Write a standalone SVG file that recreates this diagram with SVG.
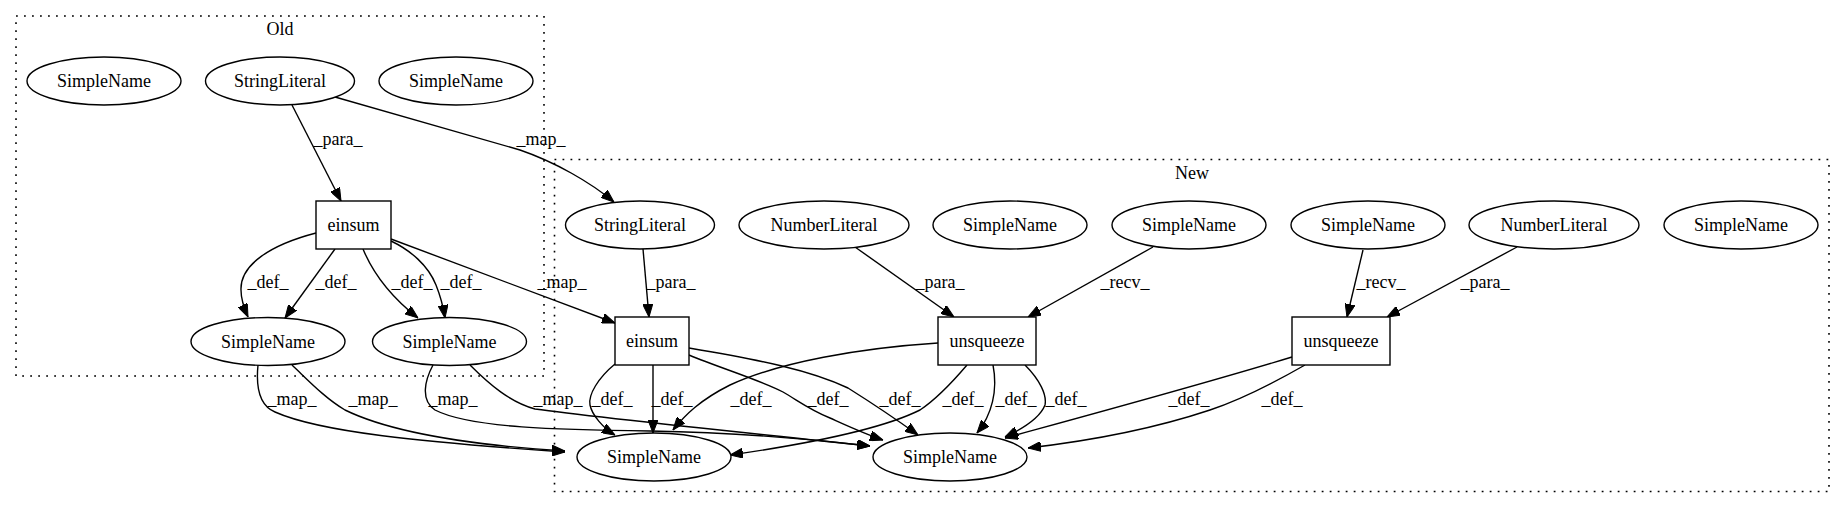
<svg xmlns="http://www.w3.org/2000/svg" width="1845" height="508" viewBox="0 0 1845 508">
<defs>
<marker id="ah" viewBox="0 0 13 10" refX="13" refY="5" markerWidth="13" markerHeight="10" markerUnits="userSpaceOnUse" orient="auto">
<path d="M0,0 L13,5 L0,10 z" fill="#000" stroke="#000" stroke-width="1"/>
</marker>
<style>
.cl{fill:none;stroke:#000;stroke-width:1.6;stroke-dasharray:1.8,6.2}
.n{fill:#fff;stroke:#000;stroke-width:1.4}
.t{font-family:"Liberation Serif",Times,serif;font-size:18px;fill:#000;text-anchor:middle}
.e{fill:none;stroke:#000;stroke-width:1.4;marker-end:url(#ah)}
</style>
</defs>
<rect width="1845" height="508" fill="#fff"/>
<g id="cluster_old">
<rect class="cl" x="16" y="16" width="528" height="360"/>
<text class="t" x="280" y="35">Old</text>
</g>
<g id="cluster_new">
<rect class="cl" x="554.5" y="159.5" width="1274.5" height="332"/>
<text class="t" x="1192" y="179">New</text>
</g>
<g id="edges">
<path class="e" d="M292,105 L341,201"/>
<text class="t" x="338" y="145">_para_</text>
<path class="e" d="M335,97 L520,150 C555,162 590,182 614,202"/>
<text class="t" x="541" y="145">_map_</text>
<path class="e" d="M316,233 C270,245 240,265 241,290 C241,300 244,308 248,317"/>
<text class="t" x="268" y="288">_def_</text>
<path class="e" d="M335,249 L285,318"/>
<text class="t" x="336" y="288">_def_</text>
<path class="e" d="M363,249 C375,278 395,300 418,318"/>
<text class="t" x="412" y="288">_def_</text>
<path class="e" d="M391,241 C410,250 428,265 436,285 C440,295 443,305 445,318"/>
<text class="t" x="461" y="288">_def_</text>
<path class="e" d="M391,239 L615,323"/>
<text class="t" x="562" y="288">_map_</text>
<path class="e" d="M258,365 C256,385 258,405 275,412 C320,432 420,442 565,452"/>
<text class="t" x="292" y="405">_map_</text>
<path class="e" d="M292,365 C310,382 325,398 345,410 C390,432 470,445 565,451"/>
<text class="t" x="373" y="405">_map_</text>
<path class="e" d="M433,365 C425,380 420,400 435,410 C470,428 560,430 650,431 C750,433 820,440 870,446"/>
<text class="t" x="453" y="405">_map_</text>
<path class="e" d="M470,365 C490,385 510,402 535,409 C600,418 750,433 870,446"/>
<text class="t" x="558" y="405">_map_</text>
<path class="e" d="M643,249 L649,317"/>
<text class="t" x="671" y="288">_para_</text>
<path class="e" d="M855,247 L954,317"/>
<text class="t" x="940" y="288">_para_</text>
<path class="e" d="M1153,247 L1028,317"/>
<text class="t" x="1125" y="288">_recv_</text>
<path class="e" d="M1363,250 L1347,317"/>
<text class="t" x="1381" y="288">_recv_</text>
<path class="e" d="M1517,247 L1387,317"/>
<text class="t" x="1485" y="288">_para_</text>
<path class="e" d="M615,364 C598,378 588,395 590,405 C592,415 603,428 615,435"/>
<text class="t" x="612" y="405">_def_</text>
<path class="e" d="M653,365 L653,433"/>
<text class="t" x="672" y="405">_def_</text>
<path class="e" d="M689,355 C720,368 760,380 783,392 C800,402 810,410 830,418 C850,427 865,434 883,440"/>
<text class="t" x="828" y="405">_def_</text>
<path class="e" d="M689,348 C760,360 810,370 848,388 C875,405 900,422 918,435"/>
<text class="t" x="900" y="405">_def_</text>
<path class="e" d="M938,343 C860,348 780,362 730,385 C700,400 685,415 673,430"/>
<text class="t" x="751" y="405">_def_</text>
<path class="e" d="M967,365 C950,385 935,400 920,410 C880,430 800,445 730,455"/>
<text class="t" x="963" y="405">_def_</text>
<path class="e" d="M993,365 C998,390 992,415 977,433"/>
<text class="t" x="1016" y="405">_def_</text>
<path class="e" d="M1025,365 C1040,380 1047,395 1045,405 C1040,418 1020,430 1005,437"/>
<text class="t" x="1066" y="405">_def_</text>
<path class="e" d="M1292,357 C1200,385 1100,412 1005,438"/>
<text class="t" x="1189" y="405">_def_</text>
<path class="e" d="M1305,365 C1270,385 1240,400 1210,410 C1150,430 1080,442 1028,448"/>
<text class="t" x="1282" y="405">_def_</text>
</g>
<g id="old_simplename_1"><ellipse class="n" cx="104" cy="81" rx="77" ry="24"/><text class="t" x="104" y="87">SimpleName</text></g>
<g id="old_stringliteral"><ellipse class="n" cx="280" cy="81" rx="74.5" ry="24"/><text class="t" x="280" y="87">StringLiteral</text></g>
<g id="old_simplename_2"><ellipse class="n" cx="456" cy="81" rx="77" ry="24"/><text class="t" x="456" y="87">SimpleName</text></g>
<g id="old_einsum"><rect class="n" x="316" y="201" width="75" height="48"/><text class="t" x="353.5" y="231">einsum</text></g>
<g id="old_simplename_3"><ellipse class="n" cx="268" cy="341.5" rx="77" ry="24"/><text class="t" x="268" y="347.5">SimpleName</text></g>
<g id="old_simplename_4"><ellipse class="n" cx="449.5" cy="341.5" rx="77" ry="24"/><text class="t" x="449.5" y="347.5">SimpleName</text></g>
<g id="new_stringliteral"><ellipse class="n" cx="640" cy="225" rx="74.5" ry="24"/><text class="t" x="640" y="231">StringLiteral</text></g>
<g id="new_numberliteral_1"><ellipse class="n" cx="824" cy="225" rx="85" ry="24"/><text class="t" x="824" y="231">NumberLiteral</text></g>
<g id="new_simplename_1"><ellipse class="n" cx="1010" cy="225" rx="77" ry="24"/><text class="t" x="1010" y="231">SimpleName</text></g>
<g id="new_simplename_2"><ellipse class="n" cx="1189" cy="225" rx="77" ry="24"/><text class="t" x="1189" y="231">SimpleName</text></g>
<g id="new_simplename_3"><ellipse class="n" cx="1368" cy="225" rx="77" ry="24"/><text class="t" x="1368" y="231">SimpleName</text></g>
<g id="new_numberliteral_2"><ellipse class="n" cx="1554" cy="225" rx="85" ry="24"/><text class="t" x="1554" y="231">NumberLiteral</text></g>
<g id="new_simplename_4"><ellipse class="n" cx="1741" cy="225" rx="77" ry="24"/><text class="t" x="1741" y="231">SimpleName</text></g>
<g id="new_einsum"><rect class="n" x="615" y="317" width="74" height="48"/><text class="t" x="652" y="347">einsum</text></g>
<g id="new_unsqueeze_1"><rect class="n" x="938" y="317" width="98" height="48"/><text class="t" x="987" y="347">unsqueeze</text></g>
<g id="new_unsqueeze_2"><rect class="n" x="1292" y="317" width="98" height="48"/><text class="t" x="1341" y="347">unsqueeze</text></g>
<g id="new_simplename_5"><ellipse class="n" cx="654" cy="457" rx="77" ry="24"/><text class="t" x="654" y="463">SimpleName</text></g>
<g id="new_simplename_6"><ellipse class="n" cx="950" cy="457" rx="77" ry="24"/><text class="t" x="950" y="463">SimpleName</text></g>
</svg>
